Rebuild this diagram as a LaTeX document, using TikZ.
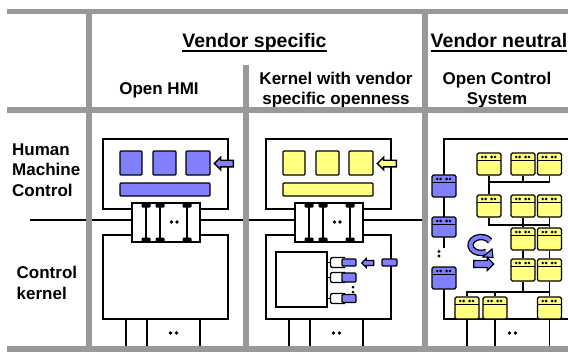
\documentclass[tikz,border=0pt]{standalone}
\usepackage{fontspec}
\setmainfont{Liberation Sans}
\usetikzlibrary{shapes.arrows}
\definecolor{gridgray}{RGB}{153,153,153}
\definecolor{hmiblue}{RGB}{128,128,255}
\definecolor{modyel}{RGB}{255,255,128}
\begin{document}
\begin{tikzpicture}[x=1pt,y=-1pt,
  gline/.style={gridgray,line width=5.5pt},
  wire/.style={line width=1.3pt},
  hd/.style={font=\fontsize{19.5}{22}\selectfont\bfseries,inner sep=0pt,anchor=base},
  lbl/.style={font=\fontsize{17}{20}\selectfont\bfseries,inner sep=0pt},
  box/.style={draw,line width=1.3pt,fill=white,inner sep=0pt},
  tile/.style={draw,line width=1.3pt,rounded corners=1pt,inner sep=0pt},
  larr/.style={single arrow,draw,line width=1.4pt,inner xsep=0pt,shape border rotate=180,
    single arrow head indent=0pt},
  rarr/.style={single arrow,draw,line width=1.4pt,inner xsep=0pt,
    single arrow head indent=0pt},
  mod/.style={draw,line width=1.2pt,rounded corners=1.5pt,minimum width=24pt,minimum height=22pt,inner sep=0pt,
    path picture={
      \draw[black,line width=1.1pt] ([yshift=-7.5pt]path picture bounding box.north west) -- ([yshift=-7.5pt]path picture bounding box.north east);
      \foreach \d in {-6.8,-3.4,2.6,6}
        \fill[black] ([xshift=\d pt,yshift=-4pt]path picture bounding box.north) circle (1.45pt);
    }},
]
\useasboundingbox (0,0) rectangle (568,351);

% ---- headings ----
\node[hd] (vs) at (254.5,47) {Vendor specific};
\draw[line width=1.8pt] ([yshift=-3.8pt]vs.base west) -- ([yshift=-3.8pt]vs.base east);
\node[hd] (vn) at (499,47) {Vendor neutral};
\draw[line width=1.8pt] ([yshift=-3.8pt]vn.base west) -- ([yshift=-3.8pt]vn.base east);

\node[lbl,anchor=base] (hmi) at (159,94) {Open HMI};
\node[lbl,anchor=base] (kv1) at (336,84) {Kernel with vendor};
\node[lbl,anchor=base] (kv2) at (336,104) {specific openness};
\node[lbl,anchor=base] (oc1) at (497,84) {Open Control};
\node[lbl,anchor=base] (oc2) at (497,104) {System};

\node[lbl,anchor=base west] (h1) at (12,155) {Human};
\node[lbl,anchor=base west] (h2) at (12,175.5) {Machine};
\node[lbl,anchor=base west] (h3) at (12,196) {Control};
\node[lbl,anchor=base west] (k1) at (16.5,278) {Control};
\node[lbl,anchor=base west] (k2) at (16.5,299) {kernel};

% ---- boundary between HMI and kernel level ----
\coordinate (sepL) at (30,220);
\coordinate (sepR) at (426,220);
\draw[wire] (sepL) -- (sepR);

\coordinate (floor) at (0,349);

% ---- the two vendor specific columns ----
\foreach \dx/\col/\p in {0/hmiblue/L,163/modyel/M}{
\begin{scope}[xshift=\dx pt]
  \node[box,minimum width=125pt,minimum height=70pt] (up\p) at (165.5,174) {};
  \node[box,minimum width=125pt,minimum height=84pt] (lo\p) at (165.5,277) {};
  \node[tile,fill=\col,minimum width=22pt,minimum height=24pt] (sa\p) at (131,163) {};
  \node[tile,fill=\col,minimum width=23pt,minimum height=24pt] (sb\p) at (164.5,163) {};
  \node[tile,fill=\col,minimum width=24pt,minimum height=24pt] (sc\p) at (198,163) {};
  \node[tile,fill=\col,minimum width=90pt,minimum height=13pt] (bar\p) at (165,189.5) {};
  \node[larr,fill=\col,minimum height=19pt,inner ysep=2.6pt,single arrow head extend=3pt] (in\p) at (225.5,163.5) {};
  % interface block between the levels
  \node[box,minimum width=68pt,minimum height=39pt] (if\p) at (166,222.5) {};
  \foreach \x in {146,160,187}{
    \draw[line width=1.5pt] (\x,204) -- (\x,241);
    \fill[rounded corners=1pt] (\x-4.5,202.5) rectangle (\x+4.5,207.5);
    \fill[rounded corners=1pt] (\x-4.5,237.5) rectangle (\x+4.5,242.5);
  }
  \fill (171.5,222) circle (1.8pt) (177,222) circle (1.8pt);
  % connections below the kernel
  \foreach \x in {126,147,200}
    \draw[wire] (\x,319) -- (\x,349);
  \fill (170.5,333) circle (1.8pt) (176.5,333) circle (1.8pt);
\end{scope}
}

% ---- kernel with vendor specific openness ----
\node[box,minimum width=51pt,minimum height=55pt] (core) at (301.5,279.5) {};
\foreach \c/\h/\n in {262.5/7/pa,277.5/9/pb,298.5/8/pc}{
  \draw[wire] (core.east |- 0,\c) -- (331,\c);
  \draw[wire,rounded corners=2pt] (345,\c-5) -- (330.5,\c-5) -- (330.5,\c+5) -- (345,\c+5);
  \node[tile,fill=hmiblue,minimum width=14pt,minimum height=\h pt] (\n) at (349,\c) {};
}
\fill (353,287) circle (1.5pt) (353,292) circle (1.5pt);
\node[larr,fill=hmiblue,minimum height=12pt,inner ysep=1.8pt,single arrow head extend=2pt] (plugin) at (369,263) {};
\node[tile,fill=hmiblue,minimum width=15pt,minimum height=7pt] (ext) at (389.5,262.5) {};

% ---- open control system ----
\draw[wire] (568,139) -- (444,139) -- (444,248);
\draw[wire] (444,267) -- (444,319) -- (568,319);
\fill (439,251.5) circle (1.7pt) (439,256) circle (1.7pt);

\node[mod,fill=hmiblue] (b1) at (444,186) {};
\node[mod,fill=hmiblue,minimum height=20pt] (b2) at (444,227) {};
\node[mod,fill=hmiblue] (b3) at (444,278) {};

\coordinate (bus1) at (0,182);
\coordinate (bus2) at (0,225);
\coordinate (bus3) at (0,292);

\node[mod,fill=modyel] (r1a) at (489,164) {};
\node[mod,fill=modyel] (r1b) at (523,164) {};
\node[mod,fill=modyel] (r1c) at (549.5,164) {};
\node[mod,fill=modyel] (r2a) at (489,206) {};
\node[mod,fill=modyel] (r2b) at (523,206) {};
\node[mod,fill=modyel] (r2c) at (549.5,206) {};
\node[mod,fill=modyel] (r3b) at (523,239) {};
\node[mod,fill=modyel] (r3c) at (549.5,239) {};
\node[mod,fill=modyel] (r4b) at (523,270) {};
\node[mod,fill=modyel] (r4c) at (549.5,270) {};
\node[mod,fill=modyel] (r5a) at (467,308) {};
\node[mod,fill=modyel] (r5b) at (495,308) {};
\node[mod,fill=modyel] (r5c) at (549.5,308) {};

\draw[wire] (r1a.south) -- (r2a.north);
\draw[wire] (r1b.south) -- (r1b.south |- bus1);
\draw[wire] (r1c.south) -- (r1c.south |- bus1);
\draw[wire] (r1a.south |- bus1) -- (r1c.south |- bus1);
\draw[wire] (r2a.south) -- (r2a.south |- bus2) -- (r2c.south |- bus2);
\draw[wire] (r2b.south) -- (r3b.north);
\draw[wire] (r2c.south) -- (r3c.north);
\draw[wire] (r3b.south) -- (r4b.north);
\draw[wire] (r3c.south) -- (r4c.north);
\draw[wire] (r4b.south) -- (r4b.south |- bus3);
\draw[wire] (r4c.south) -- (r5c.north);
\draw[wire] (r5a.north) -- (r5a.north |- bus3) -- (r4c.south |- bus3);
\draw[wire] (r5b.north) -- (r5b.north |- bus3);
\foreach \n in {r5a,r5b,r5c}
  \draw[wire] (\n.south) -- (\n.south |- floor);
\fill (509.5,333) circle (1.8pt) (515.5,333) circle (1.8pt);

% rotation symbol and plug-in arrow
\coordinate (rot) at (481,245);
\draw[line width=6.4pt] ([shift={(30:10.5pt and 8pt)}]rot) arc[start angle=30,end angle=300,x radius=10.5pt,y radius=8pt];
\draw[hmiblue,line width=3.8pt] ([shift={(30:10.5pt and 8pt)}]rot) arc[start angle=30,end angle=300,x radius=10.5pt,y radius=8pt];
\filldraw[fill=hmiblue,line width=1.1pt] (483,257) -- (492,249) -- (493,257.5) -- cycle;
\node[rarr,fill=hmiblue,minimum height=20pt,inner ysep=2.8pt,single arrow head extend=3pt] (load) at (482,264) {};

% ---- grey table rules ----
\draw[gline] (7,11.5) -- (568,11.5);
\draw[gline] (7,110) -- (568,110);
\draw[gline] (7,349) -- (568,349);
\draw[gline] (89,11.5) -- (89,351);
\draw[gline] (246,65) -- (246,351);
\draw[gline] (425,11.5) -- (425,351);
\end{tikzpicture}
\end{document}
